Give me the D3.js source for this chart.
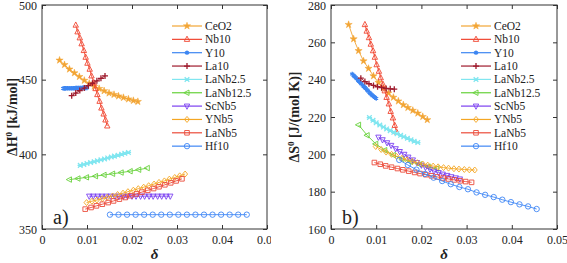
<!DOCTYPE html>
<html>
<head>
<meta charset="utf-8">
<script src="https://cdn.jsdelivr.net/npm/d3@7"></script>
<style>
  body { margin: 0; background: #fff; }
  svg { display: block; }
  svg text { font-family: "Liberation Serif", "DejaVu Serif", "Times New Roman", serif; }
</style>
</head>
<body>
<svg id="chart" width="567" height="263"></svg>
<script>
// ---- data (delta, dH [kJ/mol], dS [J/(mol K)]) ----
const ceo2D = [0.0039,0.0050,0.0061,0.0072,0.0083,0.0094,0.0105,0.0116,0.0127,0.0138,0.0149,0.0160,0.0170,0.0181,0.0192,0.0203,0.0213];
const ceo2H = [463,460,457,454.5,452,449.5,447.5,445.5,444,442.5,441,440,439,438,437,436,435.3];
const ceo2S = [269.5,261.8,255.5,250,246,242,238.5,235.5,232.8,230.5,228.5,226.5,225,223.5,222,220.2,218.5];

const nb10D = [0.0075,0.0079,0.0084,0.0088,0.0093,0.0097,0.0101,0.0106,0.0110,0.0115,0.0119,0.0123,0.0128,0.0132,0.0137,0.0141,0.0145];
const nb10H = [486.5,482,478,474,469.5,465,461,457,452.5,448,444,440,435.5,431,427,423,419];
const nb10S = [269.5,266,262.5,259,255.5,252,248,244.5,241,237.5,234,230.5,227,223,219.5,215.5,212];

const y10D = [0.0047,0.0050,0.0052,0.0055,0.0057,0.0060,0.0062,0.0065,0.0067,0.0070,0.0072,0.0075,0.0077,0.0080,0.0082,0.0085,0.0087,0.0090,0.0092,0.0095,0.0097,0.0100];
const y10H = [444.2,444.2,444.2,444.3,444.3,444.3,444.3,444.3,444.3,444.3,444.3,444.4,444.4,444.4,444.4,444.4,444.4,444.5,444.5,444.5,444.5,444.5];
const y10S = [243,242.3,241.7,241,240.4,239.7,239.1,238.4,237.8,237.1,236.5,235.8,235.2,234.5,233.9,233.2,232.6,231.9,231.4,230.9,230.5,230];

const la10D = [0.0066,0.0075,0.0084,0.0094,0.0103,0.0112,0.0122,0.0131,0.0140];
const la10H = [439.3,441,442.7,444.4,446,447.6,449.2,450.9,452.5];
const la10S = [240.8,239,237.8,236.9,236.2,235.7,235.3,235.1,234.9];

const lanb25D = [0.0085,0.0093,0.0100,0.0108,0.0116,0.0123,0.0131,0.0139,0.0146,0.0154,0.0161,0.0169,0.0177,0.0184,0.0192];
const lanb25H = [392.6,393.2,393.8,394.5,395.1,395.7,396.3,396.9,397.6,398.2,398.8,399.4,400,400.7,401.3];
const lanb25S = [219.7,218.2,216.9,215.7,214.6,213.6,212.7,211.8,211,210.2,209.4,208.6,207.8,207,206.3];

const lanb125D = [0.0061,0.0080,0.0099,0.0119,0.0138,0.0157,0.0176,0.0196,0.0215,0.0234];
const lanb125H = [383.1,383.8,384.6,385.4,386.2,387,387.8,388.7,389.7,390.8];
const lanb125S = [215.8,210.2,205.6,202.2,199.6,197.6,196,194.6,193.4,192.4];

const scnb5D = [0.0105,0.0114,0.0124,0.0133,0.0143,0.0152,0.0162,0.0171,0.0181,0.0190,0.0200,0.0209,0.0219,0.0228,0.0238,0.0247,0.0257,0.0266,0.0276,0.0285];
const scnb5H = [372,372,372,372,372,372,372,372,372,372,372,372,372,372,372,372,372,372,372,372];
const scnb5S = [209.2,207.8,206.2,204.8,203,201.5,200,198.5,197,195.6,194.2,193,192,191,190.2,189.4,188.7,188,187.4,186.8];

const ynb5D = [0.0099,0.0111,0.0122,0.0134,0.0145,0.0157,0.0168,0.0180,0.0191,0.0203,0.0214,0.0226,0.0237,0.0249,0.0260,0.0272,0.0283,0.0295,0.0306,0.0318];
const ynb5H = [367.7,368.6,369.4,370.3,371.2,372.1,373.1,374,375,376,377,378,379,380.1,381.2,382.2,383.4,384.5,385.6,386.8];
const ynb5S = [204.2,202.6,201.2,200,198.9,197.9,197,196.2,195.5,194.8,194.2,193.7,193.3,192.9,192.6,192.3,192.1,191.9,191.7,191.6];

const lanb5D = [0.0096,0.0109,0.0121,0.0134,0.0147,0.0159,0.0172,0.0185,0.0197,0.0210,0.0222,0.0235,0.0248,0.0260,0.0273,0.0286,0.0298,0.0311];
const lanb5H = [363.3,364.4,365.5,366.6,367.7,368.8,370,371.1,372.3,373.5,374.7,375.9,377.1,378.3,379.6,380.9,382.2,383.6];
const lanb5S = [195.6,194.7,193.8,193.1,192.4,191.7,191,190.3,189.7,189.1,188.5,187.9,187.3,186.8,186.3,185.8,185.4,185];

const hf10D = [0.0151,0.0170,0.0189,0.0208,0.0227,0.0246,0.0265,0.0284,0.0303,0.0322,0.0341,0.0360,0.0379,0.0398,0.0417,0.0436,0.0455];
const hf10H = [359.6,359.6,359.6,359.6,359.6,359.6,359.6,359.6,359.6,359.6,359.6,359.6,359.6,359.6,359.6,359.6,359.6];
const hf10S = [197,194.3,191.8,189.5,187.5,185.7,184,182.5,181.3,179.6,178.3,177.1,175.7,174.4,173.2,172.1,170.7];

const xTicks = [0, 0.01, 0.02, 0.03, 0.04, 0.05];
const hTicks = [350, 400, 450, 500];
const sTicks = [160, 180, 200, 220, 240, 260, 280];

const series = [
  { name: "CeO2",     color: "#f2a535", mark: "star",   d: ceo2D,    h: ceo2H,    s: ceo2S },
  { name: "Nb10",     color: "#f04530", mark: "triUp",  d: nb10D,    h: nb10H,    s: nb10S },
  { name: "Y10",      color: "#3d86f2", mark: "aster",  d: y10D,     h: y10H,     s: y10S },
  { name: "La10",     color: "#9e1a2c", mark: "plus",   d: la10D,    h: la10H,    s: la10S },
  { name: "LaNb2.5",  color: "#80e6f0", mark: "cross",  d: lanb25D,  h: lanb25H,  s: lanb25S },
  { name: "LaNb12.5", color: "#66d13a", mark: "triL",   d: lanb125D, h: lanb125H, s: lanb125S },
  { name: "ScNb5",    color: "#7b3ff0", mark: "triDn",  d: scnb5D,   h: scnb5H,   s: scnb5S },
  { name: "YNb5",     color: "#f4a623", mark: "diam",   d: ynb5D,    h: ynb5H,    s: ynb5S },
  { name: "LaNb5",    color: "#eb4b3a", mark: "square", d: lanb5D,   h: lanb5H,   s: lanb5S },
  { name: "Hf10",     color: "#3f87f5", mark: "circle", d: hf10D,    h: hf10H,    s: hf10S }
];

const FONT = "Liberation Serif, DejaVu Serif, serif";
const svg = d3.select("#chart");

function markerPath(type) {
  const r = 2.7;
  switch (type) {
    case "star": return d3.symbol(d3.symbolStar, 16)();
    case "triUp": return `M0,${-r - 0.5}L${r},${r * 0.75}L${-r},${r * 0.75}Z`;
    case "triDn": return `M0,${r + 0.5}L${r},${-r * 0.75}L${-r},${-r * 0.75}Z`;
    case "triL": return `M${-r - 0.5},0L${r * 0.75},${-r}L${r * 0.75},${r}Z`;
    case "diam": return `M0,${-r - 0.3}L${r - 0.2},0L0,${r + 0.3}L${-r + 0.2},0Z`;
    case "square": return `M${-r + 0.4},${-r + 0.4}H${r - 0.4}V${r - 0.4}H${-r + 0.4}Z`;
    case "circle": return d3.arc()({ innerRadius: 0, outerRadius: r, startAngle: 0, endAngle: 2 * Math.PI });
    case "plus": return `M${-r - 0.3},0H${r + 0.3}M0,${-r - 0.3}V${r + 0.3}`;
    case "cross": return `M${-r + 0.4},${-r + 0.4}L${r - 0.4},${r - 0.4}M${-r + 0.4},${r - 0.4}L${r - 0.4},${-r + 0.4}M${-r},0H${r}`;
    case "aster": return `M0,${-r + 0.4}V${r - 0.4}M${-r * 0.75},${-r * 0.42}L${r * 0.75},${r * 0.42}M${-r * 0.75},${r * 0.42}L${r * 0.75},${-r * 0.42}`;
  }
}

function styleMark(sel, s) {
  const filled = s.mark === "star";
  const strokeOnly = ["plus", "cross", "aster"].includes(s.mark);
  sel.attr("d", markerPath(s.mark))
    .attr("fill", filled ? s.color : "none")
    .attr("stroke", s.color)
    .attr("stroke-width", strokeOnly ? 1.3 : (filled ? 0.5 : 0.9));
}

function drawPanel(opts) {
  const g = svg.append("g");
  if (opts.clip) {
    svg.append("clipPath").attr("id", opts.clip)
      .append("rect").attr("x", 0).attr("y", 0).attr("width", opts.clipW).attr("height", 263);
    g.attr("clip-path", `url(#${opts.clip})`);
  }
  const x = d3.scaleLinear().domain([0, 0.05]).range([opts.x0, opts.x1]);
  const y = d3.scaleLinear().domain(opts.yDomain).range([229, 5]);
  const fmtX = d => d === 0 ? "0" : d3.format(".2f")(d);

  // frame ticks (inward on all four sides)
  const bottom = g.append("g").attr("transform", `translate(0,229)`)
    .call(d3.axisBottom(x).tickValues(xTicks).tickSizeInner(-4).tickSizeOuter(0).tickPadding(6).tickFormat(fmtX));
  const top = g.append("g").attr("transform", `translate(0,5)`)
    .call(d3.axisTop(x).tickValues(xTicks).tickSizeInner(-4).tickSizeOuter(0).tickFormat(""));
  const left = g.append("g").attr("transform", `translate(${opts.x0},0)`)
    .call(d3.axisLeft(y).tickValues(opts.yTicks).tickSizeInner(-4).tickSizeOuter(0).tickPadding(5));
  const right = g.append("g").attr("transform", `translate(${opts.x1},0)`)
    .call(d3.axisRight(y).tickValues(opts.yTicks).tickSizeInner(-4).tickSizeOuter(0).tickFormat(""));
  [bottom, top, left, right].forEach(a => {
    a.attr("font-family", FONT).attr("font-size", 12);
    a.select(".domain").remove();
    a.selectAll("line").attr("stroke", "#333");
    a.selectAll("text").attr("fill", "#222");
  });
  left.selectAll("text").attr("dy", "0.36em");
  g.append("rect")
    .attr("x", opts.x0).attr("y", 5)
    .attr("width", opts.x1 - opts.x0).attr("height", 224)
    .attr("fill", "none").attr("stroke", "#333").attr("stroke-width", 1);

  // series
  series.forEach(s => {
    const pts = s.d.map((d, i) => ({ d: d, v: s[opts.key][i] }));
    g.append("path").datum(pts)
      .attr("d", d3.line().x(p => x(p.d)).y(p => y(p.v)))
      .attr("fill", "none").attr("stroke", s.color).attr("stroke-width", 0.9);
    g.selectAll(null).data(pts).enter().append("path")
      .attr("transform", p => `translate(${x(p.d)},${y(p.v)})`)
      .call(styleMark, s);
  });

  // legend
  series.forEach((s, i) => {
    const ly = 26 + i * 13.35;
    g.append("line").attr("x1", opts.legX).attr("x2", opts.legX + 30)
      .attr("y1", ly).attr("y2", ly).attr("stroke", s.color).attr("stroke-width", 1.2);
    g.append("path").attr("transform", `translate(${opts.legX + 15},${ly})`).call(styleMark, s);
    g.append("text").attr("x", opts.legX + 33).attr("y", ly + 4)
      .attr("font-family", FONT).attr("font-size", 11.5).attr("fill", "#222").text(s.name);
  });

  // panel letter
  g.append("text").attr("x", opts.x0 + 11).attr("y", 224)
    .attr("font-family", FONT).attr("font-size", 20).attr("fill", "#222").text(opts.letter);

  // axis titles
  g.append("text").attr("x", (opts.x0 + opts.x1) / 2).attr("y", 259)
    .attr("text-anchor", "middle").attr("font-family", FONT).attr("font-size", 15)
    .attr("font-style", "italic").attr("font-weight", "bold").attr("fill", "#222").text("δ");

  const yt = svg.append("text")
    .attr("transform", `translate(${opts.titleX},117) rotate(-90)`)
    .attr("text-anchor", "middle").attr("font-family", FONT).attr("font-size", 14)
    .attr("font-weight", "bold").attr("fill", "#222");
  yt.append("tspan").text(opts.title[0]);
  yt.append("tspan").attr("dy", -5).attr("font-size", 9).text("0");
  yt.append("tspan").attr("dy", 5).text(" " + opts.title[1]);
}

drawPanel({ x0: 42, x1: 267, yDomain: [350, 500], yTicks: hTicks, key: "h",
  legX: 172, letter: "a)", titleX: 17, title: ["ΔH", "[kJ/mol]"], clip: "clipA", clipW: 271 });
drawPanel({ x0: 331, x1: 557, yDomain: [160, 280], yTicks: sTicks, key: "s",
  legX: 461, letter: "b)", titleX: 299, title: ["ΔS", "[J/(mol K)]"] });
</script>
</body>
</html>
